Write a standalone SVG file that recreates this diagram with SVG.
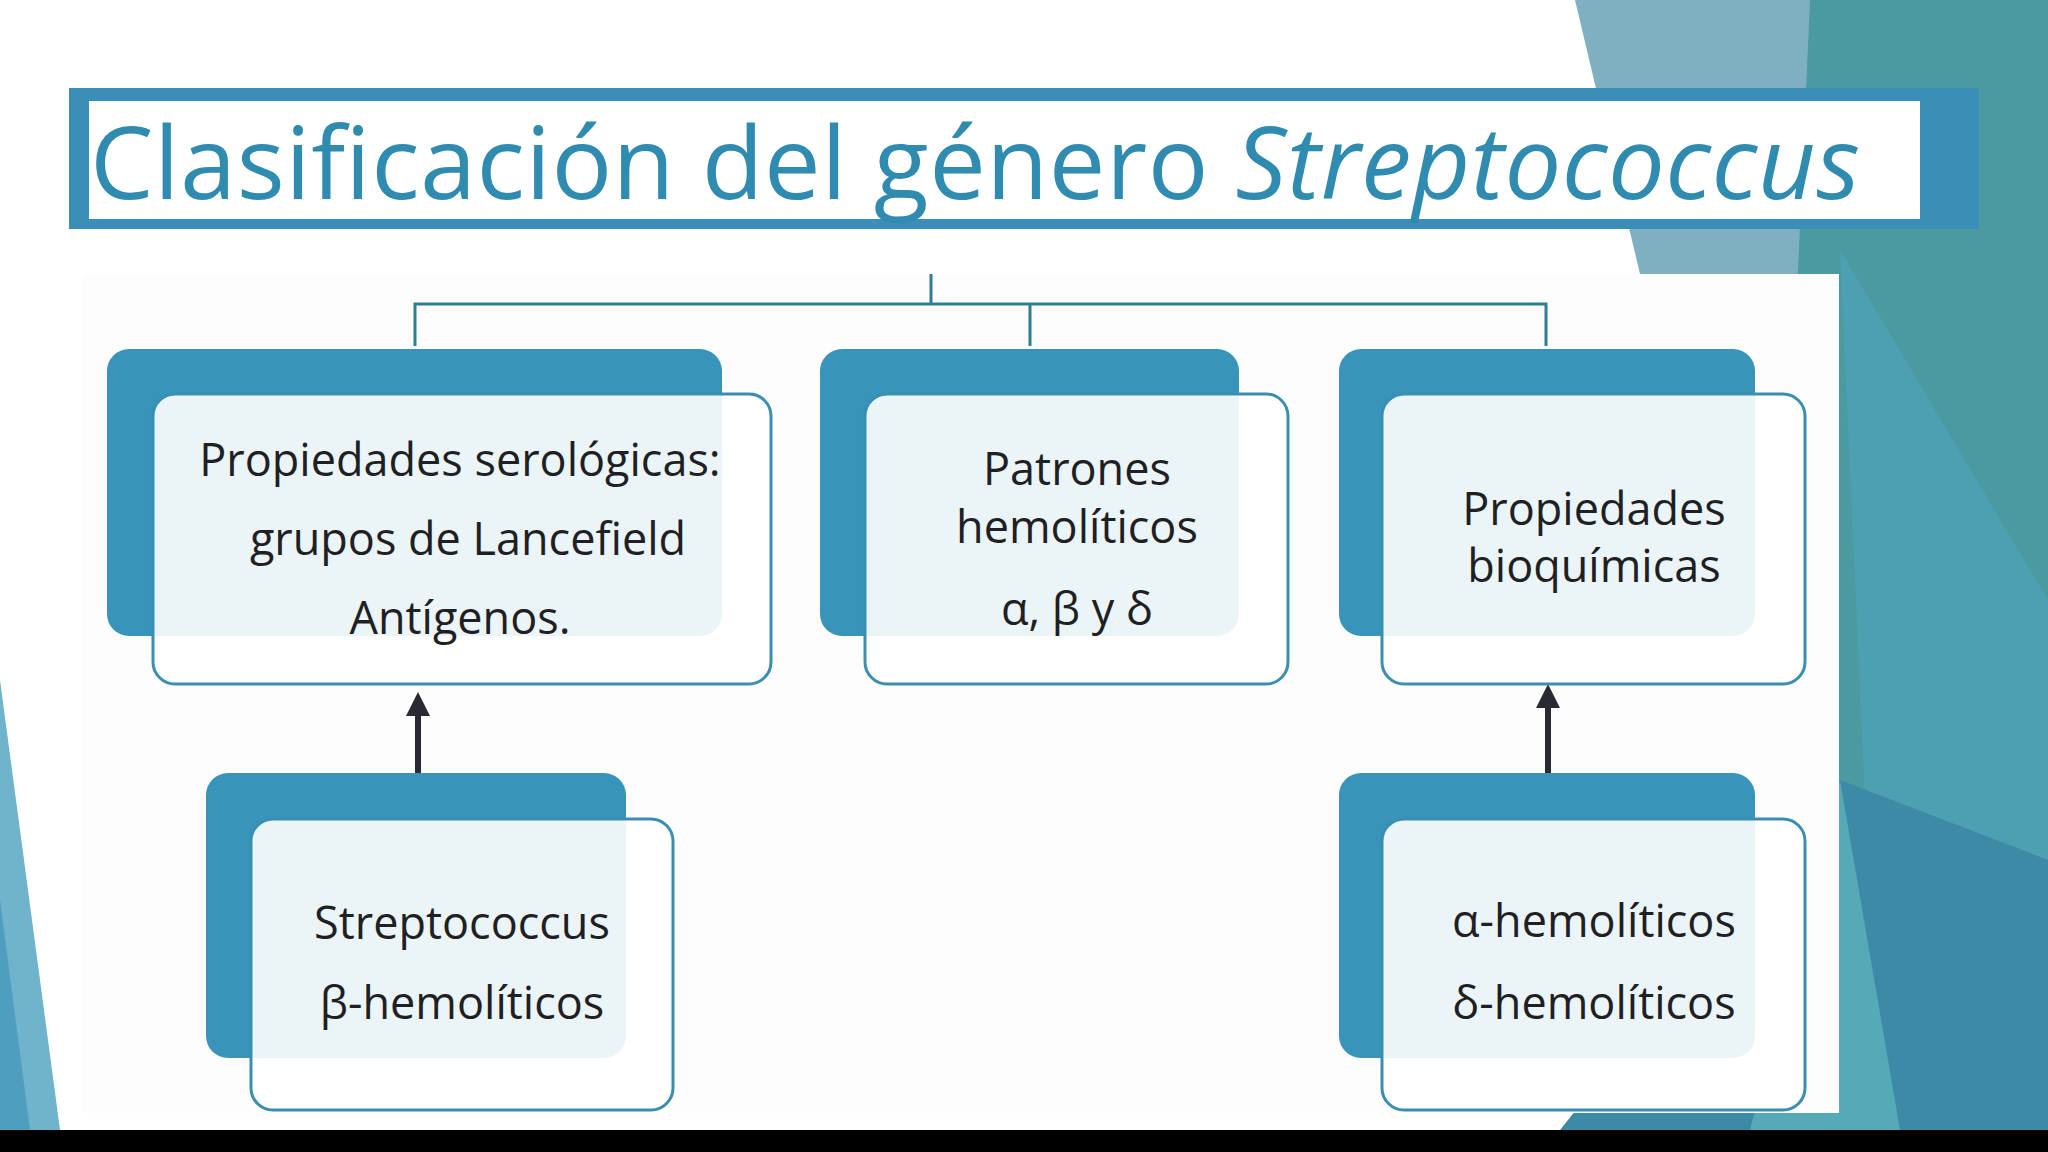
<svg xmlns="http://www.w3.org/2000/svg" width="2048" height="1152" viewBox="0 0 2048 1152">
<style>
.back{fill:#3894bb}
.front{fill:#ffffff;fill-opacity:0.9;stroke:#3a8fb0;stroke-width:3}
.t{font-family:"Open Sans","DejaVu Sans",sans-serif;font-size:45px;fill:#1f1f24;text-anchor:middle}
.c{fill:none;stroke:#2f7f93;stroke-width:3}
</style>
<defs><marker id="ah" markerWidth="24" markerHeight="24" refX="4" refY="12" orient="auto" markerUnits="userSpaceOnUse" viewBox="0 0 24 24"><path d="M0,0 L24,12 L0,24 Z" fill="#2a2a35"/></marker></defs>
<rect width="2048" height="1152" fill="#ffffff"/>
<g id="bg">
<polygon points="1575,0 2048,0 2048,1130 1840,1130 1840,274 1640,274" fill="#7fb0c2"/>
<polygon points="1810,0 2048,0 2048,1130 1760,1130" fill="#4a9aa0"/>
<polygon points="1840,250 2048,600 2048,1130 1880,1130" fill="#4fa3b8" opacity="0.7"/>
<polygon points="1840,780 2048,860 2048,1130 1560,1130" fill="#3c8aa5"/>
<polygon points="1840,780 1900,1130 1750,1130" fill="#56aab8"/>
<polygon points="0,680 60,1130 0,1130" fill="#6fb3cc"/>
<polygon points="0,900 30,1130 0,1130" fill="#4f9ebf"/>
</g>
<rect x="0" y="1130" width="2048" height="22" fill="#000"/>
<g id="title">
<rect x="69" y="88" width="1910" height="141" fill="#3a8fb8"/>
<rect x="89" y="101" width="1831" height="118" fill="#ffffff"/>
<text x="90" y="199" font-family="'Open Sans','DejaVu Sans',sans-serif" font-size="101" fill="#2f8bb0" textLength="1770">Clasificación del género <tspan font-style="italic">Streptococcus</tspan></text>
</g>
<rect x="82" y="274" width="1757" height="839" fill="#fdfdfd"/>
<g id="connectors">
<path class="c" d="M931,274 V304 M415,346 V304 H1546 V346 M1030,304 V346"/>
<line x1="418" y1="784" x2="418" y2="712" stroke="#2a2a35" stroke-width="6" marker-end="url(#ah)"/>
<line x1="1548" y1="776" x2="1548" y2="704" stroke="#2a2a35" stroke-width="6" marker-end="url(#ah)"/>
</g>
<g id="n1"><rect class="back" x="107" y="349" width="615" height="287" rx="22"/><rect class="front" x="153" y="394" width="618" height="290" rx="22"/>
<text class="t" x="460" y="476">Propiedades serológicas:</text><text class="t" x="468" y="555">grupos de Lancefield</text><text class="t" x="460" y="634">Antígenos.</text></g>
<g id="n2"><rect class="back" x="820" y="349" width="419" height="287" rx="22"/><rect class="front" x="865" y="394" width="423" height="290" rx="22"/>
<text class="t" x="1077" y="485">Patrones</text><text class="t" x="1077" y="543">hemolíticos</text><text class="t" x="1077" y="625">α, β y δ</text></g>
<g id="n3"><rect class="back" x="1339" y="349" width="416" height="287" rx="22"/><rect class="front" x="1382" y="394" width="423" height="290" rx="22"/>
<text class="t" x="1594" y="525">Propiedades</text><text class="t" x="1594" y="582">bioquímicas</text></g>
<g id="n4"><rect class="back" x="206" y="773" width="420" height="285" rx="22"/><rect class="front" x="251" y="819" width="422" height="291" rx="22"/>
<text class="t" x="462" y="939">Streptococcus</text><text class="t" x="462" y="1019">β-hemolíticos</text></g>
<g id="n5"><rect class="back" x="1339" y="773" width="416" height="285" rx="22"/><rect class="front" x="1382" y="819" width="423" height="291" rx="22"/>
<text class="t" x="1594" y="937">α-hemolíticos</text><text class="t" x="1594" y="1019">δ-hemolíticos</text></g>
</svg>
